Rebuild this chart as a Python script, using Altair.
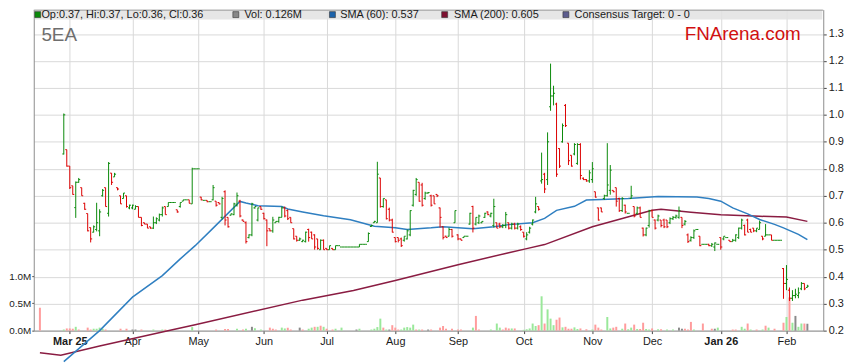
import altair as alt
import pandas as pd

FONT = "Liberation Sans"

# ---------------- data ----------------
# weekday index 0 = 17 Feb 2025; price bars run from index 8 to 257
bar_first = 8
bar_open = [
    .855, .871, .81, .737, .656, .75, .73, .672, .634, .582,
    .565, .575, .57, .70, .73, .635, .784, .77, .73, .70,
    .69, .70, .655, .655, .65, .66, .62, .60, .595, .585,
    .58, .60, .61, .63, .66, .66, .675, .675, .648, .66,
    .68, .685, .685, .67, .80, .80, .695, .683, .683, .678,
    .685, .68, .675, .62, .715, .62, .628, .63, .665, .68,
    .61, .60, .545, .555, .655, .61, .66, .635, .61, .578,
    .57, .60, .605, .62, .655, .645, .62, .578, .55, .535,
    .53, .53, .575, .565, .555, .54, .50, .535, .505, .50,
    .505, .50, .515, .51, .51, .51, .51, .51, .51, .51,
    .52, .52, .53, .586, .60, .60, .766, .66, .685, .65,
    .61, .545, .545, .54, .535, .54, .555, .665, .705, .75,
    .74, .69, .71, .70, .70, .705, .655, .585, .55, .55,
    .575, .60, .555, .54, .545, .55, .595, .66, .595, .60,
    .60, .62, .64, .625, .59, .60, .595, .585, .59, .60,
    .58, .595, .58, .585, .565, .54, .565, .595, .64, .66,
    .755, .78, .76, 1.03, 1.07, 1.04, .875, .90, 1.035, .895,
    .85, .855, .82, .89, .765, .76, .755, .76, .715, .655,
    .655, .69, .70, .72, .72, .73, .69, .645, .665, .635,
    .69, .66, .635, .655, .58, .555, .59, .645, .61, .61,
    .61, .61, .61, .60, .615, .62, .62, .62, .595, .555,
    .535, .545, .575, .55, .52, .52, .52, .515, .51, .52,
    .545, .54, .545, .535, .53, .535, .545, .58, .59, .61,
    .575, .58, .57, .575, .55, .55, .555, .555, .535, .535,
    .535, .43, .375, .35, .32, .33, .33, .355, .375, .36,
]
bar_high = [
    1.005, .871, .81, .737, .753, .766, .73, .674, .634, .582,
    .59, .674, .65, .725, .73, .825, .784, .785, .73, .70,
    .71, .70, .667, .667, .665, .66, .62, .60, .595, .585,
    .623, .62, .634, .66, .66, .675, .675, .675, .648, .675,
    .685, .685, .685, .804, .80, .80, .696, .683, .683, .678,
    .74, .68, .675, .696, .72, .62, .634, .674, .712, .685,
    .612, .605, .557, .674, .66, .656, .66, .637, .612, .578,
    .622, .605, .622, .66, .66, .65, .62, .578, .55, .545,
    .537, .567, .578, .567, .557, .54, .538, .538, .505, .515,
    .505, .515, .515, .51, .51, .51, .51, .51, .51, .52,
    .52, .52, .564, .593, .607, .826, .766, .69, .685, .656,
    .615, .545, .545, .545, .55, .575, .646, .722, .766, .75,
    .748, .715, .714, .704, .70, .705, .656, .586, .552, .582,
    .577, .645, .557, .541, .55, .55, .637, .663, .62, .63,
    .605, .637, .642, .637, .689, .60, .60, .595, .64, .60,
    .60, .60, .60, .59, .565, .565, .585, .612, .696, .66,
    .86, .785, .935, 1.19, 1.108, 1.045, .876, .968, 1.04, .895,
    .85, .895, .895, .895, .768, .762, .795, .825, .715, .656,
    .656, .704, .895, .814, .72, .73, .693, .695, .667, .635,
    .737, .66, .66, .66, .582, .582, .648, .648, .612, .63,
    .61, .615, .61, .62, .625, .63, .66, .62, .61, .56,
    .55, .575, .575, .55, .52, .52, .522, .525, .527, .52,
    .545, .55, .545, .535, .54, .557, .582, .615, .593, .615,
    .578, .58, .58, .608, .55, .595, .555, .555, .535, .535,
    .535, .432, .443, .36, .35, .355, .36, .38, .375, .37,
]
bar_low = [
    .853, .808, .725, .704, .618, .748, .70, .648, .568, .527,
    .564, .568, .55, .697, .66, .623, .74, .77, .72, .67,
    .69, .656, .65, .65, .65, .62, .587, .595, .58, .578,
    .577, .595, .605, .623, .63, .66, .675, .675, .637, .656,
    .68, .685, .672, .67, .80, .80, .683, .683, .676, .678,
    .683, .66, .668, .612, .59, .582, .627, .628, .66, .62,
    .605, .523, .542, .55, .652, .605, .648, .612, .513, .568,
    .563, .60, .60, .62, .62, .61, .60, .538, .53, .533,
    .528, .527, .53, .54, .50, .50, .50, .50, .50, .50,
    .50, .50, .515, .51, .51, .51, .51, .51, .51, .51,
    .52, .52, .53, .585, .60, .60, .656, .656, .612, .605,
    .564, .527, .527, .51, .53, .538, .55, .66, .70, .678,
    .66, .685, .708, .66, .67, .695, .582, .538, .545, .549,
    .545, .60, .535, .535, .545, .55, .593, .564, .59, .595,
    .598, .618, .628, .62, .582, .58, .58, .58, .58, .575,
    .575, .575, .575, .57, .545, .535, .56, .59, .635, .645,
    .745, .71, .74, 1.015, 1.035, .77, .803, .897, .955, .814,
    .808, .85, .815, .76, .758, .752, .748, .748, .693, .608,
    .64, .685, .697, .704, .713, .66, .64, .64, .634, .635,
    .689, .62, .63, .62, .549, .55, .582, .62, .575, .605,
    .583, .58, .58, .595, .61, .615, .615, .58, .59, .525,
    .53, .54, .575, .513, .52, .52, .513, .51, .495, .52,
    .50, .535, .545, .53, .53, .53, .54, .575, .553, .565,
    .565, .565, .565, .575, .535, .55, .555, .535, .535, .535,
    .535, .318, .35, .31, .31, .32, .32, .35, .35, .36,
]
bar_close = [
    1.0, .81, .73, .705, .75, .76, .70, .65, .57, .54,
    .585, .60, .64, .72, .66, .82, .75, .78, .725, .67,
    .71, .66, .665, .665, .66, .62, .59, .595, .58, .58,
    .60, .615, .63, .655, .63, .675, .675, .675, .64, .675,
    .685, .685, .672, .80, .80, .80, .685, .683, .678, .678,
    .73, .665, .67, .69, .61, .585, .633, .67, .70, .625,
    .605, .53, .555, .67, .66, .655, .65, .615, .57, .57,
    .61, .605, .62, .655, .625, .615, .60, .54, .535, .54,
    .535, .565, .545, .54, .51, .505, .535, .50, .50, .515,
    .50, .515, .515, .51, .51, .51, .51, .51, .51, .52,
    .52, .52, .56, .59, .605, .78, .66, .69, .615, .61,
    .565, .53, .535, .515, .55, .57, .645, .72, .76, .68,
    .665, .71, .712, .665, .67, .70, .62, .545, .545, .575,
    .55, .645, .54, .535, .55, .55, .635, .58, .62, .625,
    .605, .635, .63, .635, .66, .58, .585, .59, .63, .58,
    .595, .58, .595, .575, .55, .555, .58, .61, .67, .65,
    .76, .725, .90, 1.07, 1.08, .78, .81, .96, .96, .83,
    .81, .89, .89, .775, .76, .755, .785, .80, .695, .61,
    .64, .70, .74, .795, .715, .68, .645, .69, .64, .635,
    .70, .625, .655, .62, .555, .58, .645, .62, .58, .625,
    .59, .585, .585, .615, .62, .625, .645, .59, .605, .53,
    .545, .57, .575, .515, .52, .52, .515, .52, .525, .52,
    .51, .55, .545, .53, .535, .555, .58, .61, .555, .565,
    .565, .57, .58, .60, .54, .555, .555, .535, .535, .535,
    .535, .375, .39, .32, .33, .335, .34, .375, .355, .365,
]

vol_idx = [
    0, 8, 9, 10, 11, 12, 13, 16, 17, 18,
    19, 20, 21, 22, 27, 29, 31, 32, 34, 38,
    41, 42, 51, 59, 62, 63, 66, 68, 69, 71,
    72, 74, 77, 78, 79, 81, 82, 83, 84, 87,
    88, 90, 91, 92, 93, 94, 95, 96, 98, 99,
    101, 106, 107, 111, 112, 113, 114, 115, 116, 117,
    118, 119, 120, 121, 122, 123, 124, 125, 126, 127,
    128, 130, 131, 134, 135, 136, 138, 140, 141, 145,
    146, 147, 151, 153, 154, 155, 156, 157, 158, 159,
    162, 163, 164, 165, 166, 167, 168, 169, 170, 171,
    172, 173, 174, 175, 176, 177, 178, 179, 180, 181,
    183, 185, 186, 187, 188, 190, 191, 192, 193, 195,
    196, 197, 198, 199, 200, 201, 202, 203, 204, 205,
    207, 208, 210, 212, 214, 215, 216, 217, 218, 219,
    222, 225, 226, 227, 232, 233, 235, 236, 237, 238,
    240, 242, 243, 244, 246, 249, 250, 251, 252, 253,
    254, 255, 256, 257,
]
vol_m = [
    .42, .02, .04, .04, .035, .07, .02, .055, .02, .035,
    .035, .055, .035, .02, .035, .035, .02, .02, .02, .02,
    .02, .02, .065, .02, .03, .03, .035, .02, .035, .07,
    .045, .02, .055, .035, .02, .055, .04, .055, .02, .055,
    .02, .035, .055, .07, .07, .09, .07, .035, .02, .035,
    .055, .02, .035, .02, .035, .065, .22, .055, .02, .02,
    .1, .055, .02, .02, .055, .065, .055, .11, .02, .02,
    .02, .02, .02, .055, .085, .035, .035, .02, .02, .055,
    .27, .02, .02, .13, .055, .02, .055, .04, .04, .04,
    .015, .025, .04, .13, .085, .1, .63, .13, .39, .22,
    .1, .2, .24, .06, .07, .035, .035, .06, .03, .04,
    .025, .02, .11, .055, .02, .25, .04, .055, .07, .035,
    .13, .025, .055, .11, .03, .03, .145, .03, .02, .04,
    .025, .025, .02, .02, .055, .035, .035, .02, .16, .02,
    .13, .035, .035, .055, .02, .02, .07, .035, .13, .02,
    .02, .02, .09, .055, .035, .145, .25, .61, .145, .27,
    .07, .13, .13, .126,
]
vol_dir = list(
    "rgrrrgrrrg" "gggrrrnnrg" "grgrrrgrgn" "ggrrrggrrn" "rggrgrgrrg"
    "gngggggrgn" "rrrgggggrg" "rnrrrrrrrg" "rrgggrrrgr" "gggggrgrgg"
    "grrgrrrggr" "rgrrrggrrg" "rggrgrrggr" "grggnnrrrg" "rrngrrggrg"
    "rgrgrrgrgn" "ggrn"
)

sma60_idx = [8, 20, 31, 41, 47, 52, 58, 67, 69, 73,
             81, 83, 88, 95, 104, 112, 119, 123, 131, 135,
             145, 152, 157, 165, 169, 173, 179, 183, 188, 197,
             207, 220, 224, 228, 232, 237, 241, 246, 249, 254,
             257]
sma60_val = [.085, .20, .324, .404, .466, .515, .58, .679, .673, .663,
             .66, .651, .64, .626, .611, .587, .581, .575, .581, .585,
             .578, .585, .593, .60, .616, .646, .661, .684, .686, .69,
             .697, .695, .69, .68, .655, .633, .612, .594, .581, .557,
             .537]
sma200_idx = [0, 7, 20, 44, 52, 88, 105, 119, 140, 157,
              163, 169, 185, 205, 208, 218, 228, 241, 250, 257]
sma200_val = [.118, .109, .143, .202, .222, .313, .349, .386, .444, .489,
              .504, .519, .585, .646, .65, .639, .63, .624, .621, .605]

month_idx = [10, 31, 53, 75, 96, 119, 140, 162, 185, 205, 228, 250]
month_lbl = ["Mar 25", "Apr", "May", "Jun", "Jul", "Aug", "Sep", "Oct",
             "Nov", "Dec", "Jan 26", "Feb"]
price_ticks = [0.2, 0.3, 0.4, 0.5, 0.6, 0.7, 0.8, 0.9, 1.0, 1.1, 1.2, 1.3]
vol_ticks = [0, 0.5, 1.0]

legend_items = ["Op:0.37, Hi:0.37, Lo:0.36, Cl:0.36", "Vol: 0.126M",
                "SMA (60): 0.537", "SMA (200): 0.605", "Consensus Target: 0 - 0"]

# ---------------- build ----------------
PL = 26            # left padding -> plot starts at page x = 34
W, H = 797, 324
SH = 31 - (8 + PL)  # page-to-plot x offset correction for decorations
GREEN, RED = "#0a8a0a", "#dc0000"
VOLC = {"g": "#9ae89a", "r": "#ff9c9c", "n": "#8a8a8a"}
GRID = "#d9d9d9"
DOM = "#8c8c8c"

n = len(bar_open)
bars = pd.DataFrame({
    "i": list(range(bar_first, bar_first + n)),
    "o": bar_open, "h": bar_high, "l": bar_low, "c": bar_close,
})
bars["col"] = [GREEN if c >= o else RED for o, c in zip(bars.o, bars.c)]
bars["xl"] = bars.i - 0.5
bars["xr"] = bars.i + 0.5

vol = pd.DataFrame({"i": vol_idx, "v": vol_m, "col": [VOLC[d] for d in vol_dir]})
s60 = pd.DataFrame({"i": sma60_idx, "v": sma60_val})
s200 = pd.DataFrame({"i": sma200_idx, "v": sma200_val})

xs = alt.Scale(domain=[-0.4, 260.66], nice=False, zero=False)
ps = alt.Scale(domain=[0.2, 1.39], nice=False, zero=False)
vs = alt.Scale(domain=[0, 5.89], nice=False, zero=True)

lbl_expr = " : ".join(f"datum.value == {v} ? '{l}'" for v, l in zip(month_idx, month_lbl)) + " : ''"
bold_test = " || ".join(f"datum.value == {v}" for v, l in zip(month_idx, month_lbl) if " " in l)

xaxis = alt.Axis(values=month_idx, labelExpr=lbl_expr, title=None, grid=True,
                 gridColor=GRID, domainColor=DOM, tickColor="#444", tickSize=3,
                 labelFont=FONT, labelFontSize=11, labelColor="#1a1a1a",
                 labelPadding=2, labelFlush=False, labelOverlap=False,
                 labelFontWeight={"condition": {"test": bold_test, "value": "bold"},
                                  "value": "normal"})
pax = alt.Axis(orient="right", values=price_ticks, format=".1f", title=None,
               grid=True, gridColor=GRID, domainColor=DOM, tickColor="#444",
               tickSize=3, labelPadding=2, labelFont=FONT, labelFontSize=11,
               labelColor="#1a1a1a")
vax = alt.Axis(orient="left", values=vol_ticks,
               labelExpr="format(datum.value, '.1f') + 'M'", title=None,
               grid=False, domainColor=DOM, tickColor="#444", tickSize=2,
               labelPadding=1, labelFont=FONT, labelFontSize=10,
               labelColor="#1a1a1a")


def X(f):
    return alt.X(f"{f}:Q", scale=xs, axis=xaxis)


def Y(f):
    return alt.Y(f"{f}:Q", scale=ps, axis=pax)


vol_layer = alt.Chart(vol).mark_bar(size=2).encode(
    x=X("i"), y=alt.Y("v:Q", scale=vs, axis=vax),
    color=alt.Color("col:N", scale=None))

hl = alt.Chart(bars).mark_rule(strokeWidth=1).encode(
    x=X("i"), y=Y("l"), y2="h:Q", color=alt.Color("col:N", scale=None))
ot = alt.Chart(bars).mark_rule(strokeWidth=1).encode(
    x=X("xl"), x2="i:Q", y=Y("o"), color=alt.Color("col:N", scale=None))
ct = alt.Chart(bars).mark_rule(strokeWidth=1).encode(
    x=X("i"), x2="xr:Q", y=Y("c"), color=alt.Color("col:N", scale=None))
l200 = alt.Chart(s200).mark_line(color="#8a1c42", strokeWidth=1.5).encode(x=X("i"), y=Y("v"))
l60 = alt.Chart(s60).mark_line(color="#2f7fc1", strokeWidth=1.5).encode(x=X("i"), y=Y("v"))

price_group = alt.layer(l200, l60, hl, ot, ct)

one = pd.DataFrame({"k": [0]})
band = alt.Chart(one).mark_rect(color="#e2e2e2", opacity=0.85).encode(
    x=alt.value(1), x2=alt.value(W - 1), y=alt.value(0), y2=alt.value(10))
topline = alt.Chart(one).mark_rule(color="#9a9a9a", strokeWidth=1).encode(
    x=alt.value(0), x2=alt.value(W), y=alt.value(0.5))

decor = [band, topline]
sq_cx = [7, 207, 304.5, 417.8, 540.2]
tx_x = [10.7, 215.7, 312.3, 427.3, 549]
sq_col = [GREEN, "#888888", "#1b62aa", "#7d1030", "#5c5c8e"]
for cx, tx, col, lab in zip(sq_cx, tx_x, sq_col, legend_items):
    decor.append(alt.Chart(one).mark_rect(color=col, stroke="#333", strokeWidth=0.6).encode(
        x=alt.value(cx - 3 + SH), x2=alt.value(cx + 3 + SH), y=alt.value(2), y2=alt.value(8)))
    decor.append(alt.Chart(one).mark_text(align="left", baseline="middle", font=FONT,
                                          fontSize=11, color="#1a1a1a").encode(
        x=alt.value(tx + SH), y=alt.value(5.5), text=alt.value(lab)))

decor.append(alt.Chart(one).mark_text(align="left", baseline="alphabetic", font=FONT,
                                      fontSize=19, color="#6e6e6e").encode(
    x=alt.value(10.7 + SH), y=alt.value(31.3), text=alt.value("5EA")))
decor.append(alt.Chart(one).mark_text(align="right", baseline="alphabetic", font=FONT,
                                      fontSize=19, color="#d11010").encode(
    x=alt.value(777.3 + SH), y=alt.value(30.3), text=alt.value("FNArena.com")))

chart = alt.layer(vol_layer, price_group, *decor).resolve_scale(
    y="independent").properties(
    width=W, height=H,
    padding={"left": PL, "top": 0, "right": 28, "bottom": 31},
    autosize=alt.AutoSizeParams(type="none"),
).configure_view(strokeWidth=0)

chart.save("out.html", embed_options={"renderer": "svg", "actions": False})
